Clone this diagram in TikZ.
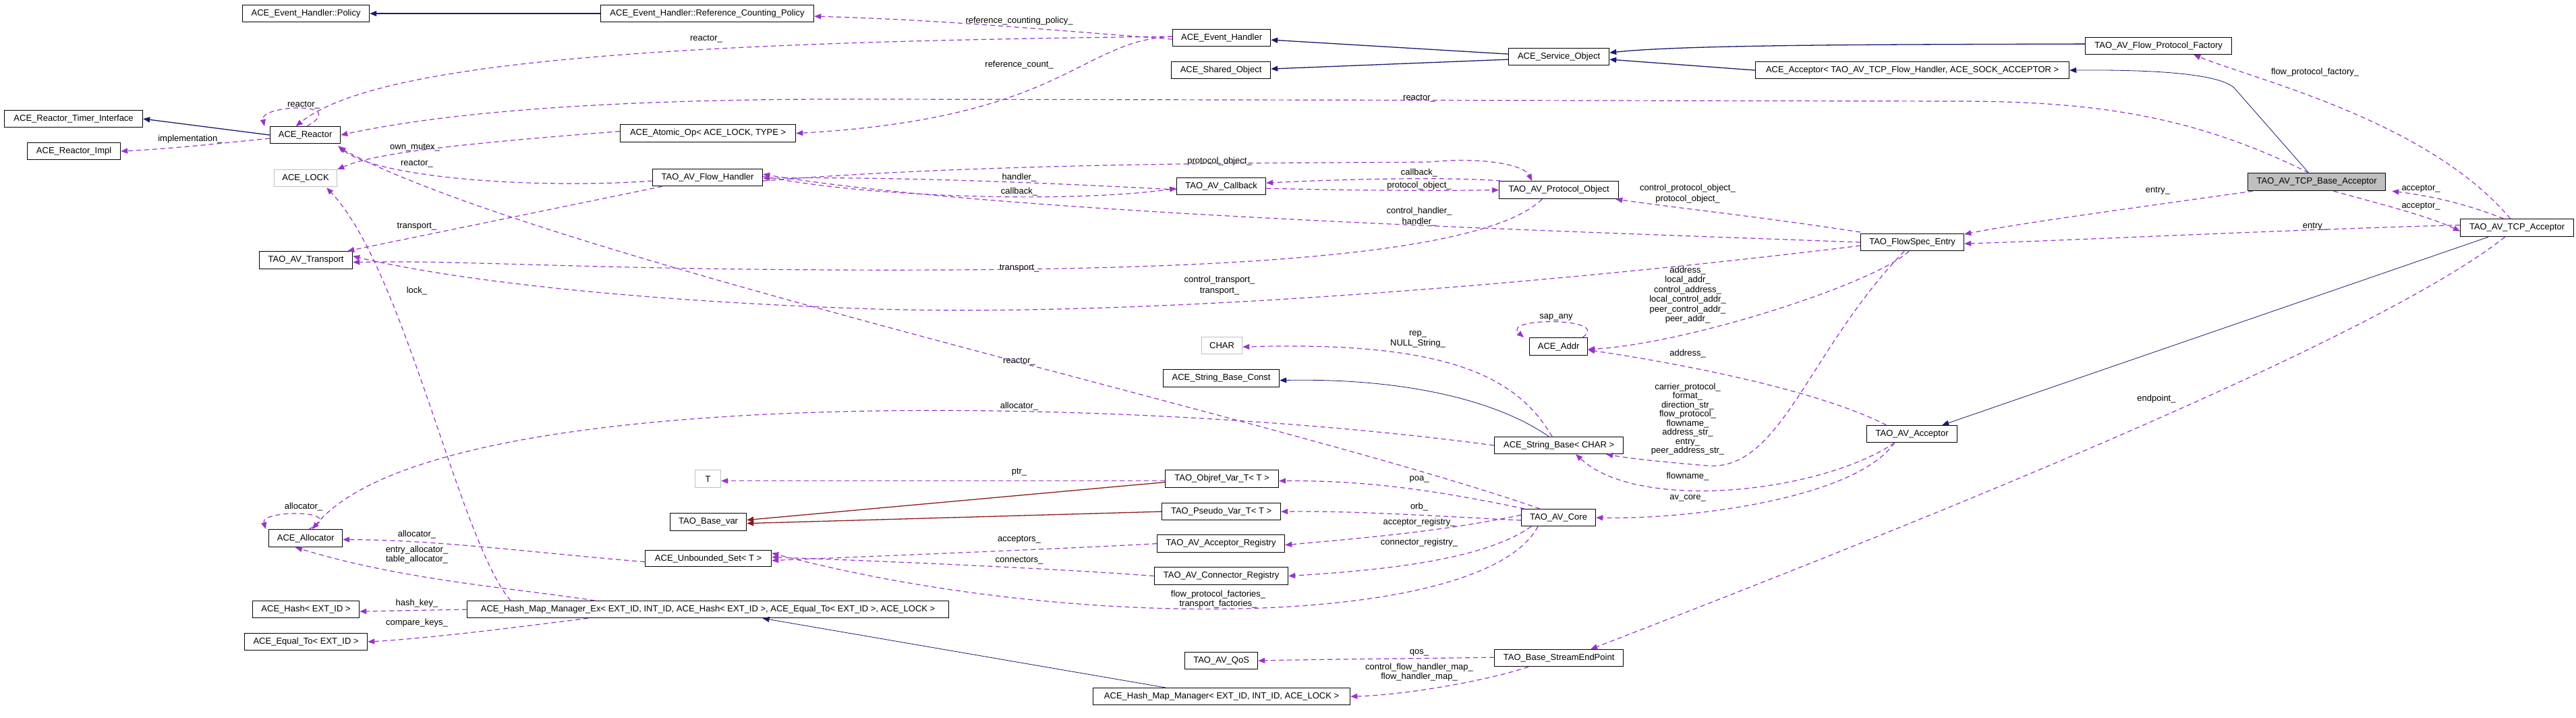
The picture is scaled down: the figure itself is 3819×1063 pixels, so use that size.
\documentclass[tikz,border=0pt]{standalone}
\usepackage{fontspec}
\setmainfont{Liberation Sans}
\usetikzlibrary{arrows.meta}
\definecolor{inh}{HTML}{191970}
\definecolor{usec}{HTML}{9A32CD}
\definecolor{tmpl}{HTML}{8B1A1A}
\definecolor{gb}{HTML}{BFBFBF}
\newcommand{\bx}[7][]{\node[box,anchor=north west,minimum width={(#4-#2)*1pt},minimum height={(#5-#3)*1pt},#1] (#6) at (#2,#3) {#7};}
\begin{document}
\begin{tikzpicture}[x=1pt,y=-1pt,
 box/.style={draw=black,line width=1.2pt,inner sep=0pt,font=\fontsize{13}{14}\selectfont},
 gbox/.style={draw=gb},
 lbl/.style={font=\fontsize{13}{13.5}\selectfont,inner sep=0pt,align=center},
 inhe/.style={draw=inh,line width=1.3pt,-{Triangle[length=10pt,width=8pt]}},
 tmp/.style={draw=tmpl,line width=1.3pt,-{Triangle[length=10pt,width=8pt]}},
 usea/.style={draw=usec,line width=1.2pt,dashed,dash pattern=on 7pt off 5pt,-{Triangle[length=10pt,width=8pt]}}]
\useasboundingbox[fill=white] (0,0) rectangle (3819,1063);
% nodes
\bx{359}{7}{547}{32}{pol}{ACE\_Event\_Handler::Policy}
\bx{890}{7}{1206}{32}{rcp}{ACE\_Event\_Handler::Reference\_Counting\_Policy}
\bx{6}{163}{211}{188}{rti}{ACE\_Reactor\_Timer\_Interface}
\bx{400}{187}{504}{212}{rea}{ACE\_Reactor}
\bx{40}{211}{178}{236}{impl}{ACE\_Reactor\_Impl}
\bx{919}{184}{1179}{210}{ato}{ACE\_Atomic\_Op< ACE\_LOCK, TYPE >}
\bx[gbox]{406}{251}{499}{276}{lock}{ACE\_LOCK}
\bx{967}{250}{1130}{275}{fh}{TAO\_AV\_Flow\_Handler}
\bx{384}{372}{522}{398}{tr}{TAO\_AV\_Transport}
\bx{1738}{43}{1883}{68}{eh}{ACE\_Event\_Handler}
\bx{1736}{91}{1883}{116}{sho}{ACE\_Shared\_Object}
\bx{2236}{71}{2385}{96}{so}{ACE\_Service\_Object}
\bx{1744}{263}{1876}{288}{cb}{TAO\_AV\_Callback}
\bx{2222}{268}{2399}{294}{po}{TAO\_AV\_Protocol\_Object}
\bx{3091}{55}{3308}{80}{fpf}{TAO\_AV\_Flow\_Protocol\_Factory}
\bx{2602}{91}{3067}{116}{acc}{ACE\_Acceptor< TAO\_AV\_TCP\_Flow\_Handler, ACE\_SOCK\_ACCEPTOR >}
\bx[fill=gb]{3332}{256}{3536}{282}{tba}{TAO\_AV\_TCP\_Base\_Acceptor}
\bx{3647}{324}{3815}{350}{tcp}{TAO\_AV\_TCP\_Acceptor}
\bx{2758}{346}{2911}{371}{fse}{TAO\_FlowSpec\_Entry}
\bx{2767}{630}{2901}{655}{avacc}{TAO\_AV\_Acceptor}
\bx[gbox]{1030}{696}{1068}{722}{t}{T}
\bx{993}{760}{1106}{786}{bv}{TAO\_Base\_var}
\bx{398}{784}{507}{810}{alloc}{ACE\_Allocator}
\bx{956}{815}{1143}{839}{uset}{ACE\_Unbounded\_Set< T >}
\bx{374}{890}{532}{915}{hash}{ACE\_Hash< EXT\_ID >}
\bx{692}{890}{1406}{915}{hmmex}{ACE\_Hash\_Map\_Manager\_Ex< EXT\_ID, INT\_ID, ACE\_Hash< EXT\_ID >, ACE\_Equal\_To< EXT\_ID >, ACE\_LOCK >}
\bx{362}{938}{544}{963}{eq}{ACE\_Equal\_To< EXT\_ID >}
\bx[gbox]{1781}{499}{1841}{524}{char}{CHAR}
\bx{2267}{500}{2353}{526}{addr}{ACE\_Addr}
\bx{1724}{547}{1896}{573}{sbc}{ACE\_String\_Base\_Const}
\bx{2215}{647}{2406}{672}{sb}{ACE\_String\_Base< CHAR >}
\bx{1727}{696}{1895}{722}{objref}{TAO\_Objref\_Var\_T< T >}
\bx{1722}{745}{1898}{770}{pseudo}{TAO\_Pseudo\_Var\_T< T >}
\bx{1715}{792}{1904}{818}{accreg}{TAO\_AV\_Acceptor\_Registry}
\bx{1711}{840}{1909}{866}{connreg}{TAO\_AV\_Connector\_Registry}
\bx{2255}{754}{2365}{779}{avcore}{TAO\_AV\_Core}
\bx{1756}{966}{1864}{991}{qos}{TAO\_AV\_QoS}
\bx{2215}{962}{2406}{987}{sep}{TAO\_Base\_StreamEndPoint}
\bx{1620}{1019}{2001}{1044}{hmm}{ACE\_Hash\_Map\_Manager< EXT\_ID, INT\_ID, ACE\_LOCK >}
% labels
\node[lbl] (L1) at (1047,58) {reactor\_};
\node[lbl] (L2) at (450,156) {reactor\_};
\node[lbl] (L3) at (282,206) {implementation\_};
\node[lbl] (L4) at (615,219) {own\_mutex\_};
\node[lbl] (L5) at (618,243) {reactor\_};
\node[lbl] (L6) at (618,336) {transport\_};
\node[lbl] (L7) at (618,431) {lock\_};
\node[lbl] (L8) at (1511,31) {reference\_counting\_policy\_};
\node[lbl] (L9) at (1511,96) {reference\_count\_};
\node[lbl] (L10) at (2104,146) {reactor\_};
\node[lbl] (L11) at (1808,239) {protocol\_object\_};
\node[lbl] (L12) at (1511,263) {handler\_};
\node[lbl] (L13) at (1511,284) {callback\_};
\node[lbl] (L14) at (2104,256) {callback\_};
\node[lbl] (L15) at (2104,275) {protocol\_object\_};
\node[lbl] (L16) at (2502,287) {control\_protocol\_object\_\\[2pt]protocol\_object\_};
\node[lbl] (L17) at (2104,321) {control\_handler\_\\[2pt]handler\_};
\node[lbl] (L18) at (1511,398) {transport\_};
\node[lbl] (L19) at (1808,423) {control\_transport\_\\[2pt]transport\_};
\node[lbl] (L20) at (2502,437) {address\_\\[1pt]local\_addr\_\\[1pt]control\_address\_\\[1pt]local\_control\_addr\_\\[1pt]peer\_control\_addr\_\\[1pt]peer\_addr\_};
\node[lbl] (L21) at (2307,470) {sap\_any};
\node[lbl] (L22) at (2102,503) {rep\_\\[1pt]NULL\_String\_};
\node[lbl] (L23) at (3432,107) {flow\_protocol\_factory\_};
\node[lbl] (L24) at (3199,283) {entry\_};
\node[lbl] (L25) at (3589,280) {acceptor\_};
\node[lbl] (L26) at (3589,306) {acceptor\_};
\node[lbl] (L27) at (3432,336) {entry\_};
\node[lbl] (L28) at (3197,591) {endpoint\_};
\node[lbl] (L29) at (2502,524) {address\_};
\node[lbl] (L30) at (2502,621) {carrier\_protocol\_\\[0pt]format\_\\[0pt]direction\_str\_\\[0pt]flow\_protocol\_\\[0pt]flowname\_\\[0pt]address\_str\_\\[0pt]entry\_\\[0pt]peer\_address\_str\_};
\node[lbl] (L31) at (2502,706) {flowname\_};
\node[lbl] (L32) at (2502,738) {av\_core\_};
\node[lbl] (L33) at (1511,536) {reactor\_};
\node[lbl] (L34) at (1511,602) {allocator\_};
\node[lbl] (L35) at (450,751) {allocator\_};
\node[lbl] (L36) at (618,792) {allocator\_};
\node[lbl] (L37) at (618,822) {entry\_allocator\_\\[1pt]table\_allocator\_};
\node[lbl] (L38) at (618,894) {hash\_key\_};
\node[lbl] (L39) at (618,923) {compare\_keys\_};
\node[lbl] (L40) at (1511,700) {ptr\_};
\node[lbl] (L41) at (2104,710) {poa\_};
\node[lbl] (L42) at (2104,751) {orb\_};
\node[lbl] (L43) at (2104,774) {acceptor\_registry\_};
\node[lbl] (L44) at (2104,804) {connector\_registry\_};
\node[lbl] (L45) at (1511,800) {acceptors\_};
\node[lbl] (L46) at (1511,831) {connectors\_};
\node[lbl] (L47) at (1806,888) {flow\_protocol\_factories\_\\[1pt]transport\_factories\_};
\node[lbl] (L48) at (2104,967) {qos\_};
\node[lbl] (L49) at (2104,996) {control\_flow\_handler\_map\_\\[1pt]flow\_handler\_map\_};
% inheritance
\draw[inhe] (rcp.west) -- (pol.east);
\draw[inhe] (rea.west) -- (rti.east);
\draw[inhe] ([yshift=4pt]so.west) -- ([yshift=-3pt]eh.east);
\draw[inhe] ([yshift=-4pt]so.west) -- ([yshift=2pt]sho.east);
\draw[inhe] ([yshift=3pt]fpf.west) .. controls (2800,66) and (2500,66) .. ([yshift=6pt]so.east);
\draw[inhe] (acc.west) -- ([yshift=-4pt]so.east);
\draw[inhe,line width=0.8pt] ([xshift=-12pt]tba.north) -- (3312,130) .. controls (3290,110) and (3200,103) .. (acc.east);
\draw[inhe,line width=0.8pt] ([xshift=42pt]tcp.south west) -- ([xshift=-23pt]avacc.north east);
\draw[inhe,line width=0.8pt] ([xshift=-15pt]sb.north) .. controls (2230,600) and (2100,560) .. ([yshift=-3pt]sbc.east);
\draw[inhe,line width=0.8pt] ([xshift=-83pt]hmm.north) -- ([xshift=81pt]hmmex.south);
\draw[tmp] ([yshift=-5pt]objref.west) -- ([yshift=3pt]bv.east);
\draw[tmp] (pseudo.west) -- ([yshift=-2pt]bv.east);
% usage
\draw[usea] ([yshift=-2pt]eh.west) .. controls (1500,40) and (1400,30) .. ([yshift=-4pt]rcp.east);
\draw[usea] ([yshift=2pt]eh.west) .. controls (1000,62) and (560,90) .. ([xshift=-14pt]rea.north);
\draw[usea] ([yshift=2pt]eh.west) .. controls (1600,60) and (1580,175) .. (ato.east);
\draw[usea] ([xshift=-50pt]rea.north east) .. controls (520,150) and (385,155) .. ([xshift=-8pt]rea.north west);
\draw[usea] ([yshift=-5pt]rea.west) .. controls (330,212) and (260,220) .. (impl.east);
\draw[usea] ([yshift=3pt]ato.west) .. controls (700,212) and (560,225) .. (lock.north east);
\draw[usea] ([yshift=-5pt]fh.west) .. controls (800,280) and (560,265) .. ([xshift=-4pt,yshift=-3pt]rea.south east);
\draw[usea] ([xshift=15pt]fh.south west) -- ([xshift=-8pt]tr.north east);
\draw[usea] ([xshift=65pt]hmmex.north west) .. controls (680,800) and (600,400) .. ([xshift=-16pt,yshift=-1pt]lock.south east);
\draw[usea] ([xshift=28pt]avcore.north west) .. controls (1900,620) and (800,380) .. ([xshift=-3pt,yshift=-5pt]rea.south east);
\draw[usea] ([xshift=-12pt]tba.north) .. controls (3250,170) and (3100,150) .. (2900,150) -- (1300,147) .. controls (800,145) and (600,180) .. (rea.east);
\draw[usea] ([yshift=-5pt]fh.east) .. controls (1500,238) and (2000,242) .. (2120,240) .. controls (2200,232) and (2260,245) .. ([xshift=-40pt]po.north);
\draw[usea] ([yshift=-5pt]cb.west) .. controls (1500,268) and (1300,262) .. ([yshift=-1pt]fh.east);
\draw[usea] ([yshift=2pt]fh.east) .. controls (1300,295) and (1600,300) .. ([yshift=-3pt]cb.west);
\draw[usea] ([xshift=3pt]po.north west) .. controls (2150,262) and (2000,265) .. ([yshift=5pt]cb.east);
\draw[usea] ([yshift=-3pt]cb.east) .. controls (2000,282) and (2100,283) .. (po.west);
\draw[usea] ([yshift=2pt]fse.north west) .. controls (2600,320) and (2500,310) .. ([xshift=-5pt]po.south east);
\draw[usea] (fse.west) .. controls (2400,345) and (1500,320) .. ([yshift=5pt]fh.east);
\draw[usea] ([xshift=-25pt]po.south) .. controls (2200,380) and (1800,398) .. (1400,400) .. controls (900,402) and (700,385) .. ([yshift=-3pt]tr.east);
\draw[usea] ([yshift=-5pt]fse.west) .. controls (2300,420) and (1700,470) .. (1300,458) .. controls (900,445) and (650,410) .. ([yshift=6pt]tr.east);
\draw[usea] ([xshift=-5pt]fse.south) .. controls (2780,420) and (2500,510) .. ([yshift=-4pt]addr.east);
\draw[usea] ([xshift=-8pt]addr.north east) .. controls (2390,470) and (2225,470) .. ([xshift=-8pt]addr.north west);
\draw[usea] ([xshift=-10pt]sb.north) .. controls (2250,560) and (2150,505) .. ([yshift=-2pt]char.east);
\draw[usea] ([xshift=8pt]tba.south west) .. controls (3150,310) and (3000,330) .. ([yshift=-1pt]fse.north east);
\draw[usea] ([yshift=4pt]tcp.west) .. controls (3400,340) and (3100,355) .. ([yshift=-2pt]fse.east);
\draw[usea] ([xshift=-20pt]tcp.north) .. controls (3650,300) and (3600,290) .. ([xshift=9pt]tba.south east);
\draw[usea] ([xshift=25pt]tba.south) .. controls (3520,300) and (3600,320) .. ([yshift=-5pt]tcp.west);
\draw[usea] ([xshift=-10pt]tcp.north) .. controls (3600,180) and (3350,120) .. ([xshift=-57pt]fpf.south east);
\draw[usea] ([xshift=-18pt]tcp.south) .. controls (3500,520) and (2700,830) .. ([xshift=47pt]sep.north);
\draw[usea] ([xshift=-38pt]avacc.north) .. controls (2700,580) and (2500,540) .. ([yshift=-5pt]addr.east);
\draw[usea] ([xshift=-12pt]fse.south) .. controls (2680,520) and (2640,700) .. (2530,690) .. controls (2470,685) and (2420,680) .. ([xshift=-26pt]sb.south east);
\draw[usea] ([xshift=-26pt]avacc.south) .. controls (2700,730) and (2430,760) .. ([xshift=25pt]sb.south);
\draw[usea] ([xshift=-26pt]avacc.south) .. controls (2750,740) and (2500,770) .. (avcore.east);
\draw[usea] (sb.west) .. controls (1700,590) and (650,560) .. ([xshift=10pt]alloc.north);
\draw[usea] ([xshift=-50pt]alloc.north east) .. controls (520,755) and (385,755) .. ([xshift=-4pt]alloc.north west);
\draw[usea] ([yshift=-5pt]uset.west) .. controls (800,820) and (650,800) .. ([yshift=-2pt]alloc.east);
\draw[usea] ([xshift=190pt]hmmex.north west) .. controls (750,870) and (600,860) .. ([xshift=40pt]alloc.south west);
\draw[usea] (hmmex.west) -- ([yshift=-3pt]hash.east);
\draw[usea] ([xshift=180pt]hmmex.south west) .. controls (800,925) and (650,945) .. (eq.east);
\draw[usea] ([yshift=-3pt]objref.west) -- ([yshift=-3pt]t.east);
\draw[usea] ([xshift=5pt]avcore.north west) .. controls (2100,720) and (2000,712) .. ([yshift=-3pt]objref.east);
\draw[usea] ([yshift=-4pt]avcore.west) .. controls (2100,763) and (2000,757) .. (pseudo.east);
\draw[usea] ([yshift=4pt]avcore.west) .. controls (2150,785) and (2050,795) .. ([yshift=-2pt]accreg.east);
\draw[usea] ([xshift=15pt]avcore.south west) .. controls (2200,830) and (2050,845) .. (connreg.east);
\draw[usea] (accreg.west) .. controls (1600,812) and (1400,820) .. ([yshift=-3pt]uset.east);
\draw[usea] (connreg.west) .. controls (1600,845) and (1400,835) .. ([yshift=2pt]uset.east);
\draw[usea] ([xshift=25pt]avcore.south west) .. controls (2200,930) and (1600,940) .. ([yshift=8pt]uset.east);
\draw[usea] ([yshift=1pt]sep.west) .. controls (2100,976) and (1950,977) .. (qos.east);
\draw[usea] ([xshift=-45pt]sep.south) .. controls (2200,1010) and (2080,1030) .. (hmm.east);
\end{tikzpicture}
\end{document}
